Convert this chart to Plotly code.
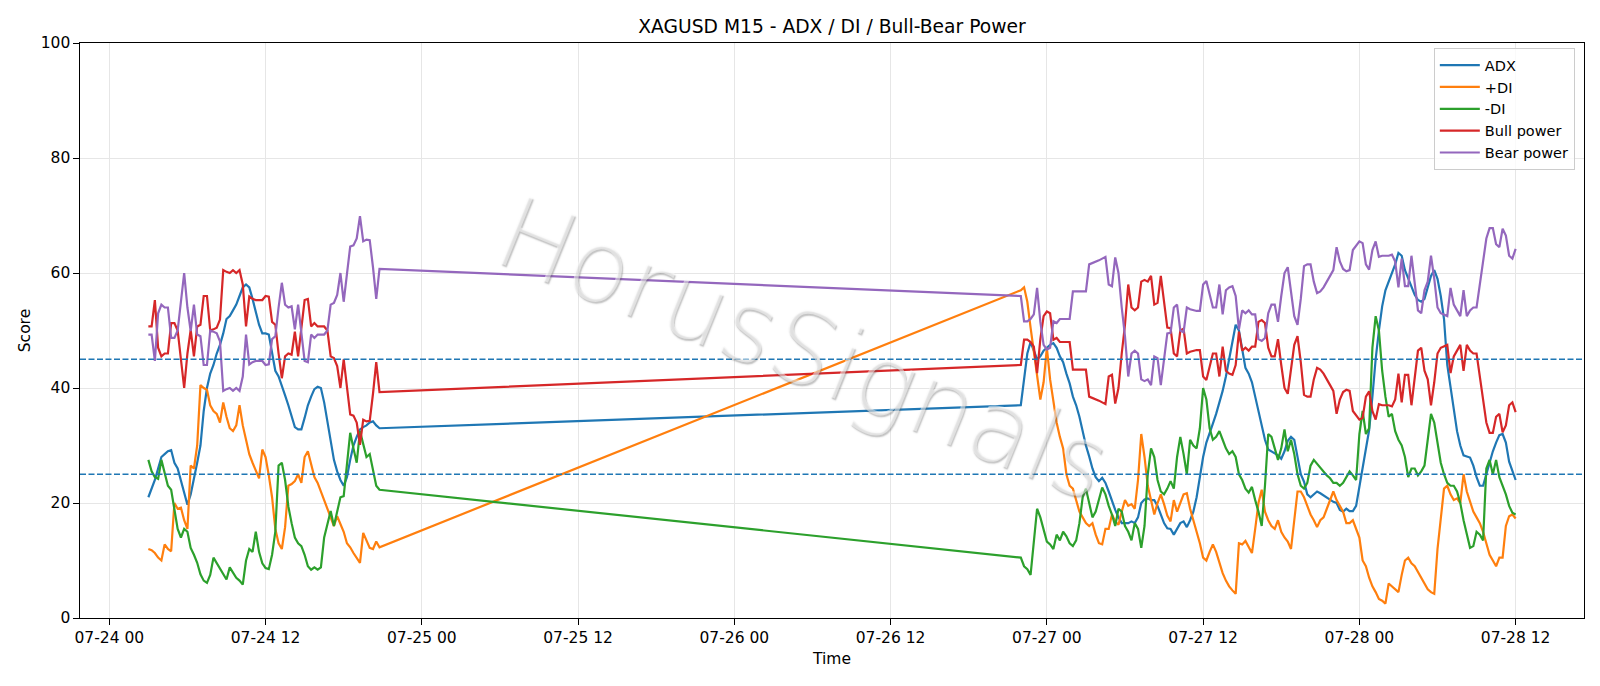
import pandas as pd
import plotly.graph_objects as go

# ---------------- data (M15 bars, two trading sessions) ----------------
seg1_start, seg1_end = "2020-07-24 03:00", "2020-07-24 20:45"
seg2_start, seg2_end = "2020-07-26 22:00", "2020-07-28 12:00"

adx_1 = [21, 22.5, 24, 26, 28, 28.5, 29, 29.2, 27, 26,
         24, 22, 19.7, 21.5, 24, 27, 30, 36, 40, 42.5,
         44, 46, 47.5, 49.5, 52, 52.5, 53.5, 54.5, 56, 57.5,
         58, 57.5, 55.5, 53, 51, 49.5, 49.5, 49.3, 46, 43,
         42, 40.5, 38.7, 37, 35, 33.2, 32.8, 32.8, 34.8, 37,
         38.5, 39.8, 40.2, 40, 37.5, 34, 30.5, 27.5, 25.5, 24,
         23, 24.5, 27.5, 30, 31.5, 32.8, 33.2, 33.5, 34, 34.2,
         33.5, 33]
pdi_1 = [12, 11.8, 11.3, 10.5, 10, 12.8, 12, 11.6, 20, 19,
         19.2, 17, 15.5, 26.5, 26, 30, 40.5, 40, 39.7, 37,
         36, 35.5, 34, 37.5, 35, 33, 32.5, 33.5, 37, 33.5,
         31, 28.5, 27, 25.5, 24.3, 29.3, 28, 24.8, 21, 15.5,
         13, 12, 15.8, 23, 23.3, 23.8, 25, 23.5, 28, 29,
         26.5, 24.5, 23.5, 22, 20.5, 19, 17.5, 16, 17.7, 16.5,
         15, 13, 12.3, 11.3, 10.5, 9.6, 14.8, 13.5, 12.2, 12,
         13.3, 12.3]
mdi_1 = [27.5, 25.5, 24.5, 24.2, 27.5, 25, 23, 22.3, 18.5, 15.5,
         14, 15.5, 15, 12.2, 11, 9.6, 7.6, 6.5, 6.1, 7.5,
         10.5, 9.5, 8.5, 7.5, 6.7, 8.8, 8, 7, 6.5, 5.8,
         10, 12, 11.5, 15, 11.5, 9.5, 8.7, 8.5, 11, 15,
         26.5, 27, 24, 19.4, 16.5, 14, 13, 12.5, 11, 9,
         8.4, 8.8, 8.4, 8.8, 14, 16.5, 18.6, 16, 18.3, 21,
         21.2, 27, 32.2, 29.5, 27, 32.5, 30, 28, 28.5, 25.5,
         23, 22.3]
bull_1 = [50.7, 50.7, 55.3, 47, 45.5, 46, 46, 51.3, 51.3, 50,
          45, 40, 46, 50.1, 45.5, 50.7, 51, 56, 56, 50,
          50.2, 50.5, 51.9, 60.5, 60.2, 60, 60.5, 60, 60.5, 58,
          50.7, 55.9, 55.5, 55.3, 55.3, 55.3, 56, 55.9, 51.5, 51,
          46, 41.7, 45.5, 46, 45.8, 49.8, 45.5, 50.7, 55.3, 55.5,
          50.7, 51.3, 50.7, 50.7, 50.7, 50, 45.5, 45.2, 43.8, 40,
          45, 40.2, 35.4, 35.2, 34, 30.1, 34.5, 34.2, 34.3, 39,
          44.5, 39.3]
bear_1 = [49.3, 49.3, 44.7, 53, 54.5, 54, 54, 48.7, 48.7, 50,
          55, 60, 54, 49.9, 54.5, 49.3, 49, 44, 44, 50,
          49.8, 49.5, 48.1, 39.5, 39.8, 40, 39.5, 40, 39.5, 42,
          49.3, 44.1, 44.5, 44.7, 44.7, 44.7, 44, 44.1, 48.5, 49,
          54, 58.3, 54.5, 54, 54.2, 50.2, 54.5, 49.3, 44.7, 44.5,
          49.3, 48.7, 49.3, 49.3, 49.3, 50, 54.5, 54.8, 56.2, 60,
          55, 59.8, 64.6, 64.8, 66, 69.9, 65.5, 65.8, 65.7, 61,
          55.5, 60.7]

adx_2 = [37, 42, 46, 48, 46.5, 45, 45.5, 46.5, 47, 47.5,
         47.8, 47, 45.5, 44.5, 42.5, 40.8, 38.5, 37, 35, 32.5,
         30, 28.1, 26, 24.5, 23.8, 24.4, 23.5, 22, 20.2, 18.8,
         17.5, 16.5, 16.5, 16.5, 16.8, 16.5, 17.5, 20, 20.6, 20.8,
         20.5, 20.5, 19.5, 18, 16.5, 15.6, 15.5, 14.5, 15.5, 16.5,
         16.8, 15.8, 17, 18.5, 21, 24.5, 28, 30.5, 32, 33.8,
         35.5, 37.5, 39.5, 42, 45, 48, 51, 50, 46.5, 43.5,
         42.5, 41, 38.5, 36, 33.5, 31, 29.3, 29, 28.7, 28.3,
         27.7, 29, 30.8, 31.5, 31, 28, 25, 23.7, 21.5, 21,
         21.5, 22, 21.7, 21.3, 21, 20.5, 20.2, 20, 18.8, 18.5,
         19, 18.6, 18.6, 19.5, 23, 26.5, 30, 32.7, 38.5, 45,
         50, 54.2, 57, 58.5, 59.8, 61.5, 63.5, 63, 60.5, 59,
         57.5, 56.2, 55.3, 55, 55.5, 57.5, 59.5, 60.5, 59, 56,
         52, 44, 40, 36, 32.5, 30, 28.3, 28.1, 27.9, 26.5,
         24.5, 23, 23, 25, 27, 29, 30.5, 31.8, 32, 30.5,
         27.2, 25.5, 24]
pdi_2 = [57, 57.5, 55, 50.5, 46.5, 42.5, 38, 41, 47, 41.5,
         38, 34, 31.5, 29.5, 25, 23, 22.5, 20.3, 18.5, 17.5,
         16.5, 16, 16.5, 14.5, 13, 12.8, 15.5, 15.5, 18, 16.8,
         16.2, 18.5, 20.5, 19.5, 19.8, 19, 24, 32, 28, 23,
         20.5, 18, 20, 21.5, 19.8, 17.8, 16.8, 20.5, 18.5, 20,
         21.5, 21.7, 19, 17, 15, 13, 10.5, 10, 11.5, 12.8,
         11.5, 9.5, 7.8, 6.5, 5.5, 4.8, 4.2, 13, 12.8, 13.4,
         12.3, 11.3, 15.5, 20, 22.3, 18.5, 17, 16, 15.5, 17,
         15, 14, 13.3, 12, 17, 22, 22, 21, 19.5, 18,
         17, 15.8, 17, 17.5, 19, 20.5, 22, 20.5, 19.5, 18.5,
         16.5, 16.5, 17, 15.5, 14, 10, 9, 7, 5.5, 4.5,
         3.3, 3, 2.5, 6, 5.5, 5, 4.5, 7.5, 10, 10.5,
         9.5, 9, 8, 7, 6, 5, 4.5, 4.2, 12, 17,
         22.5, 23, 21.5, 20.5, 20.8, 20, 25, 22, 20.2, 18.5,
         17.5, 16.5, 15, 13, 11, 10, 9, 10.5, 10.5, 16,
         17.7, 18, 17.3]
mdi_2 = [10.5, 9, 8.5, 7.5, 14, 19, 17.5, 15.5, 13.3, 12.8,
         12, 14.5, 13.5, 15, 14.2, 13, 12.5, 13.5, 16.5, 21,
         22.5, 20, 17.5, 18.5, 20.5, 22.7, 21.5, 19.5, 18, 16,
         19, 18.5, 16, 15, 13.5, 16.5, 15.5, 12.2, 16, 25,
         29.5, 28, 24, 22, 21.5, 22.5, 23.8, 22.5, 28, 31.5,
         28.5, 25, 31, 30, 29.5, 33, 40, 38, 33, 31,
         31.5, 32.5, 31, 29.5, 28.5, 29, 28, 25, 24, 22.5,
         21.8, 22.8, 20.5, 18.5, 16, 23, 32, 31.5, 29.5, 27.5,
         29.5, 32.8, 29, 31, 28.5, 25, 23, 22.5, 23.5, 26.5,
         27.5, 26.8, 26, 25.3, 24.8, 24.3, 23.5, 23.5, 23, 23.5,
         24.5, 25.5, 24.8, 24, 32, 36, 32, 33, 47, 52.5,
         50, 43, 38.5, 35, 35.5, 32.5, 31, 30, 28, 24.5,
         26, 26, 24.8, 25.5, 26.5, 31, 35.5, 34, 30.5, 27,
         25, 23.5, 23, 23, 22, 20, 17, 14.5, 12.2, 12.5,
         15, 14.5, 13.5, 26, 27.5, 25, 27.5, 24.5, 23, 21.5,
         19.5, 18.3, 18]
bull_2 = [44, 48.4, 48.4, 48, 47.2, 42.6, 48.5, 52.5, 53.3, 53,
          48.4, 48.7, 48, 48, 48, 48, 43.2, 43.2, 43.2, 43.2,
          43.2, 38.5, 38.3, 38, 37.8, 37.5, 37.2, 42, 42.3, 37.3,
          40, 46, 51, 58, 54, 53.5, 54, 58.5, 58.8, 58.5,
          59.5, 54.5, 54.8, 59.5, 54.5, 50.5, 50.4, 46, 45.5, 50,
          50.3, 46, 46.3, 46.5, 46.6, 46.6, 42, 41.4, 44, 46,
          46, 42, 47.2, 43, 42.5, 42.3, 44, 49.8, 46.5, 47,
          46.5, 47.2, 47.2, 51.5, 51.8, 51.3, 47, 45.5, 45.5, 48.5,
          44, 40, 39, 43.5, 47.5, 49, 44.5, 38.8, 38.5, 38.5,
          41.5, 43.5, 43.2, 42.5, 41.6, 40.5, 39.5, 35.5, 38, 39.3,
          39.7, 39.5, 36, 35.2, 34.5, 34.8, 38.5, 39.4, 36, 34.5,
          37.2, 37, 37, 37, 36.8, 38, 42.5, 37.5, 42.3, 42.3,
          37, 41.5, 46.5, 47, 43, 41.5, 37, 41, 46, 47,
          47.2, 47.5, 42.6, 45.5, 46.5, 47.5, 43, 47.5, 46.5, 46,
          46, 42, 38.5, 34, 32.2, 32.2, 35, 35.5, 32.3, 33.5,
          37, 37.5, 35.8]
bear_2 = [56, 51.6, 51.6, 52, 52.8, 57.4, 51.5, 47.5, 46.7, 47,
          51.6, 51.3, 52, 52, 52, 52, 56.8, 56.8, 56.8, 56.8,
          56.8, 61.5, 61.7, 62, 62.2, 62.5, 62.8, 58, 57.7, 62.7,
          60, 54, 49, 42, 46, 46.5, 46, 41.5, 41.2, 41.5,
          40.5, 45.5, 45.2, 40.5, 45.5, 49.5, 49.6, 54, 54.5, 50,
          49.7, 54, 53.7, 53.5, 53.4, 53.4, 58, 58.6, 56, 54,
          54, 58, 52.8, 57, 57.5, 57.7, 56, 50.2, 53.5, 53,
          53.5, 52.8, 52.8, 48.5, 48.2, 48.7, 53, 54.5, 54.5, 51.5,
          56, 60, 61, 56.5, 52.5, 51, 55.5, 61.2, 61.5, 61.5,
          58.5, 56.5, 56.8, 57.5, 58.4, 59.5, 60.5, 64.5, 62, 60.7,
          60.3, 60.5, 64, 64.8, 65.5, 65.2, 61.5, 60.6, 64, 65.5,
          62.8, 63, 63, 63, 63.2, 62, 57.5, 62.5, 57.7, 57.7,
          63, 58.5, 53.5, 53, 57, 58.5, 63, 59, 54, 53,
          52.8, 52.5, 57.4, 54.5, 53.5, 52.5, 57, 52.5, 53.5, 54,
          54, 58, 61.5, 66, 67.8, 67.8, 65, 64.5, 67.7, 66.5,
          63, 62.5, 64.2]

threshold_levels = [45, 25]
series_names = ["ADX", "+DI", "-DI", "Bull power", "Bear power"]
series_colors = ["#1f77b4", "#ff7f0e", "#2ca02c", "#d62728", "#9467bd"]

# ---------------- build ----------------
t1 = pd.date_range(seg1_start, seg1_end, freq="15min")
t2 = pd.date_range(seg2_start, seg2_end, freq="15min")
times = list(t1) + list(t2)

all_series = [adx_1 + adx_2, pdi_1 + pdi_2, mdi_1 + mdi_2,
              bull_1 + bull_2, bear_1 + bear_2]

FONT = "DejaVu Sans"
fig = go.Figure()
for name, col, vals in zip(series_names, series_colors, all_series):
    n = min(len(times), len(vals))
    fig.add_trace(go.Scatter(x=times[:n], y=vals[:n], mode="lines", name=name,
                             line=dict(color=col, width=2.2)))

for lv in threshold_levels:
    fig.add_shape(type="line", xref="paper", x0=0, x1=1, yref="y", y0=lv, y1=lv,
                  line=dict(color="#1f77b4", width=1.4, dash="6px,2.5px"), layer="above")

fig.add_annotation(text="HorusSignals", xref="paper", yref="paper", x=0.481, y=0.468,
                   showarrow=False, textangle=22,
                   font=dict(family=FONT, size=100, weight=200,
                             color="rgba(255,255,255,0.5)",
                             shadow="1.5px 1.5px 1.5px rgba(90,90,90,0.75)"))

axis_common = dict(showline=True, linecolor="black", linewidth=1.25, mirror=True,
                   ticks="outside", ticklen=5.5, tickwidth=1.25, tickcolor="black",
                   showgrid=True, gridcolor="#e6e6e6", gridwidth=1.2, zeroline=False,
                   tickfont=dict(family=FONT, size=15.5, color="black"))

fig.update_layout(
    width=1600, height=686,
    margin=dict(l=80, r=16, t=43, b=68),
    paper_bgcolor="white", plot_bgcolor="white",
    font=dict(family=FONT, color="black"),
    title=dict(text="XAGUSD M15 - ADX / DI / Bull-Bear Power", x=0.5, xref="paper",
               xanchor="center", y=1 - 26 / 686, yref="container", yanchor="middle",
               font=dict(family=FONT, size=18.7, color="black")),
    xaxis=dict(type="date", range=["2020-07-23 21:45", "2020-07-28 17:15"],
               tick0="2020-07-24 00:00", dtick=12 * 3600 * 1000, tickformat="%m-%d %H",
               title=dict(text="Time", font=dict(family=FONT, size=15.5), standoff=6),
               **axis_common),
    yaxis=dict(range=[0, 100], dtick=20, tick0=0,
               title=dict(text="Score", font=dict(family=FONT, size=15.5), standoff=6),
               **axis_common),
    legend=dict(x=0.9939, y=0.991, xanchor="right", yanchor="top",
                bgcolor="rgba(255,255,255,0.8)", bordercolor="#cccccc", borderwidth=1,
                font=dict(family=FONT, size=14.5, color="black"), itemwidth=40,
                tracegroupgap=0),
    showlegend=True,
)

fig.write_html("out.html")
